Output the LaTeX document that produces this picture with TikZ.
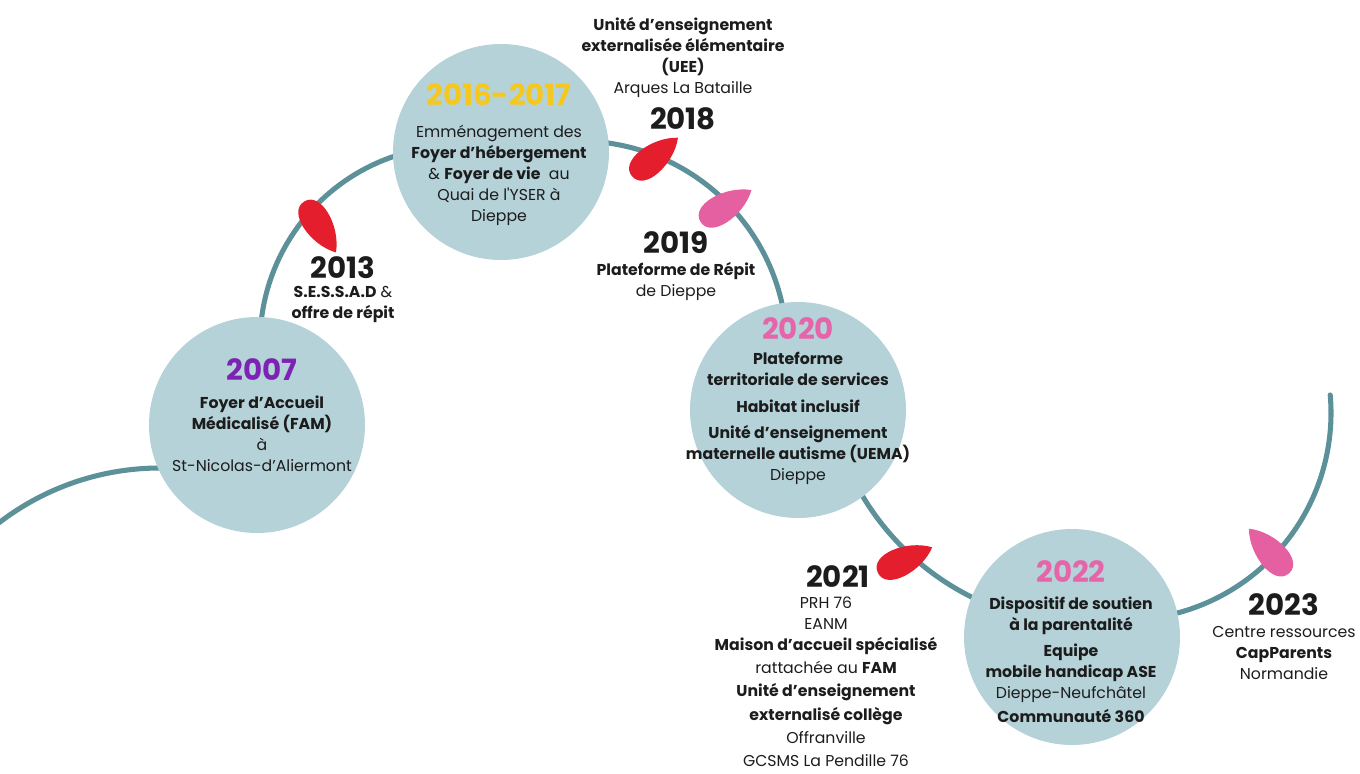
\documentclass[tikz,border=0pt]{standalone}
\usepackage{fontspec}
\setmainfont{Poppins}
\usetikzlibrary{positioning}

\definecolor{wavecol}{RGB}{92,145,153}
\definecolor{discfill}{RGB}{180,210,216}
\definecolor{leafred}{RGB}{228,30,44}
\definecolor{leafpink}{RGB}{228,96,160}
\definecolor{yrpurple}{RGB}{125,35,180}
\definecolor{yryellow}{RGB}{246,200,30}
\definecolor{yrpink}{RGB}{230,100,170}
\definecolor{txt}{RGB}{28,28,28}

\tikzset{
    wave/.style={draw=wavecol, line width=3.8pt, line cap=round},
    disc/.style={circle, fill=discfill, minimum size=162pt, inner sep=0pt},
    year/.style={font=\fontsize{22}{26}\selectfont\bfseries, inner sep=0pt, text=txt},
    body/.style={font=\fontsize{11.8}{15.75}\selectfont, align=center, inner sep=0pt, text=txt},
}

\begin{document}
\begin{tikzpicture}[x=0.75pt, y=-0.75pt]
    \useasboundingbox (0,0) rectangle (1360,774);

    % the wave
    \coordinate (o0) at (160,732);
    \coordinate (o1) at (457,343);
    \coordinate (o2) at (579,349);
    \coordinate (o3) at (1090,360);
    \coordinate (o4) at (1124,413);
    \draw[wave] (o0) ++(-130:264) arc[start angle=-130, end angle=-80, radius=264];
    \draw[wave] (o1) ++(-180:197) arc[start angle=-180, end angle=-100, radius=197];
    \draw[wave] (o2) ++(-95:208) arc[start angle=-95, end angle=-5, radius=208];
    \draw[wave] (o3) ++(155:265) arc[start angle=155, end angle=110, radius=265];
    \draw[wave] (o4) ++(90:207) arc[start angle=90, end angle=-5, radius=207];

    % discs
    \node[disc] (c2007) at (257,425) {};
    \node[disc] (c2016) at (501,152) {};
    \node[disc] (c2020) at (798,410) {};
    \node[disc] (c2022) at (1072,637) {};

    % leaves
    \foreach \lx/\ly/\ang/\col in {320/227/-58/leafred, 655/157/40/leafred, 726/206/32/leafpink, 905/560/25/leafred, 1269/551/132/leafpink}
        \fill[\col, shift={(\lx,\ly)}, rotate=\ang] (30,0) .. controls (10,-18) and (-30,-20) .. (-30,0) .. controls (-30,20) and (10,18) .. (30,0) -- cycle;

    % 2007
    \node[year, text=yrpurple] (y2007) at (262,370) {2007};
    \node[body, below=11pt of y2007] (t2007) {\textbf{Foyer d’Accueil}\\ \textbf{Médicalisé (FAM)}\\ à\\ St-Nicolas-d’Aliermont};

    % 2013
    \node[year] (y2013) at (343,268) {2013};
    \node[body, below=5pt of y2013] (t2013) {\textbf{S.E.S.S.A.D} \&\\ \textbf{offre de répit}};

    % 2016-2017
    \node[year, text=yryellow] (y2016) at (499,95) {2016-2017};
    \node[body, below=14pt of y2016] (t2016) {Emménagement des\\ \textbf{Foyer d’hébergement}\\ \& \textbf{Foyer de vie}\ \ au\\ Quai de l\textquotesingle YSER à\\ Dieppe};

    % 2018
    \node[year] (y2018) at (683,119) {2018};
    \node[body, above=7pt of y2018] (t2018) {\textbf{Unité d’enseignement}\\ \textbf{externalisée élémentaire}\\ \textbf{(UEE)}\\ Arques La Bataille};

    % 2019
    \node[year] (y2019) at (676,243) {2019};
    \node[body, below=6pt of y2019] (t2019) {\textbf{Plateforme de Répit}\\ de Dieppe};

    % 2020
    \node[year, text=yrpink] (y2020) at (798,329) {2020};
    \node[body, below=9pt of y2020] (t2020) {\textbf{Plateforme}\\ \textbf{territoriale de services}\\[4.5pt] \textbf{Habitat inclusif}\\[3.75pt] \textbf{Unité d’enseignement}\\ \textbf{maternelle autisme (UEMA)}\\ Dieppe};

    % 2021
    \node[year] (y2021) at (838,577) {2021};
    \node[body, below=6pt of y2021, xshift=-9pt] (t2021) {PRH 76\\ EANM\\ \textbf{Maison d’accueil spécialisé}\\[1.5pt] rattachée au \textbf{FAM}\\[1.5pt] \textbf{Unité d’enseignement}\\[2.25pt] \textbf{externalisé collège}\\[1.5pt] Offranville\\[1.5pt] GCSMS La Pendille 76};

    % 2022
    \node[year, text=yrpink] (y2022) at (1071,572) {2022};
    \node[body, below=10pt of y2022] (t2022) {\textbf{Dispositif de soutien}\\ \textbf{à la parentalité}\\[3.75pt] \textbf{Equipe}\\ \textbf{mobile handicap ASE}\\ Dieppe-Neufchâtel\\[2.25pt] \textbf{Communauté 360}};

    % 2023
    \node[year] (y2023) at (1284,605) {2023};
    \node[body, below=7pt of y2023] (t2023) {Centre ressources\\ \textbf{CapParents}\\ Normandie};
\end{tikzpicture}
\end{document}
